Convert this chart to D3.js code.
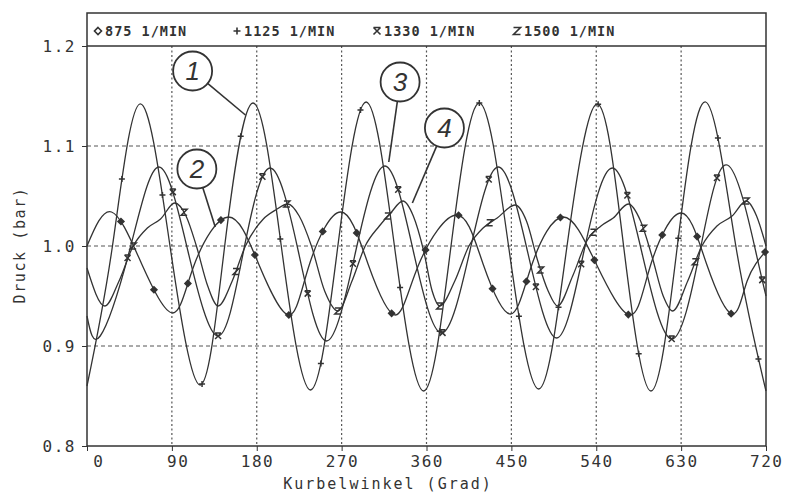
<!DOCTYPE html>
<html>
<head>
<meta charset="utf-8">
<script src="https://cdn.jsdelivr.net/npm/d3@7"></script>
<style>
body { margin: 0; background: #fff; }
text { font-family: "DejaVu Sans Mono", monospace; fill: #333; }
</style>
</head>
<body>
<div id="chart"></div>
<script>
// tick values
var ticksX = [0, 90, 180, 270, 360, 450, 540, 630, 720];
var ticksY = [0.8, 0.9, 1.0, 1.1, 1.2];
var legendNames = ["875 1/MIN", "1125 1/MIN", "1330 1/MIN", "1500 1/MIN"];

// curves, [Kurbelwinkel, Druck]
var s875 = [[0,1.0],[26,1.034],[58,0.982],[91,0.933],[114,0.982],[150,1.029],[182,0.982],[214,0.931],
  [236,0.982],[269,1.034],[298,0.982],[327,0.931],[352,0.982],[392,1.031],[420,0.982],[449,0.932],
  [472,0.982],[505,1.029],[540,0.982],[576,0.931],[598,0.982],[630,1.033],[657,0.982],[684,0.932],
  [700,0.965],[720,0.995]];
var s1125 = [[0,0.86],[27,1.0],[56,1.142],[88,1.0],[120,0.861],[146,1.0],[176,1.143],[206,1.0],
  [237,0.856],[266,1.0],[296,1.144],[326,1.0],[357,0.855],[386,1.0],[416,1.143],[447,1.0],
  [479,0.857],[509,1.0],[541,1.142],[569,1.0],[598,0.855],[626,1.0],[656,1.144],[688,1.0],[720,0.855]];
var s1330 = [[0,0.93],[14,0.91],[45,0.995],[76,1.079],[107,0.995],[139,0.91],[166,0.995],[194,1.078],
  [224,0.995],[254,0.905],[285,0.995],[316,1.08],[346,0.995],[376,0.913],[406,0.995],[436,1.079],
  [467,0.995],[498,0.908],[527,0.995],[557,1.078],[588,0.995],[620,0.907],[650,0.995],[679,1.081],
  [709,0.995],[720,0.95]];
var s1500 = [[0,0.978],[19,0.94],[34,0.965],[49,1.0],[64,1.018],[78,1.027],[93,1.043],[105,1.03],
  [116,1.0],[128,0.96],[139,0.94],[154,0.965],[168,1.0],[187,1.027],[200,1.036],[213,1.042],
  [225,1.03],[238,1.0],[252,0.955],[266,0.935],[281,0.965],[295,1.0],[310,1.02],[322,1.033],
  [335,1.045],[346,1.03],[357,0.995],[366,0.955],[374,0.94],[390,0.965],[405,1.0],[420,1.018],
  [435,1.028],[454,1.041],[466,1.025],[478,0.985],[489,0.955],[499,0.94],[515,0.97],[530,1.005],
  [545,1.02],[558,1.028],[574,1.042],[587,1.025],[599,0.99],[611,0.95],[621,0.935],[637,0.965],
  [652,1.0],[668,1.02],[684,1.03],[699,1.045],[710,1.03],[720,1.0]];

// Kurbelwinkel of the plotted symbols
var marks875 = [36,71,107,142,178,214,250,286,323,359,394,430,466,502,538,574,610,647,683,719];
var marks1125 = [37,80,122,163,205,248,290,332,374,416,458,500,542,585,627,669,712];
var marks1330 = [43,91,139,186,234,282,330,377,426,476,524,573,620,668,716];
var marks1500 = [49,103,158,212,266,319,374,427,481,537,590,645,699];

// circled curve numbers: centre and the point the leader touches
var notes = [
  { num: "1", cx: 112, cy: 1.175, tx: 168, ty: 1.131 },
  { num: "2", cx: 116.5, cy: 1.077, tx: 136, ty: 1.019 },
  { num: "3", cx: 332, cy: 1.164, tx: 320, ty: 1.084 },
  { num: "4", cx: 379, cy: 1.118, tx: 345, ty: 1.043 }
];

var W = 786, H = 492;
var svg = d3.select("#chart").append("svg").attr("width", W).attr("height", H);

var x = d3.scaleLinear().domain([0, 720]).range([87, 766]);
var y = d3.scaleLinear().domain([0.8, 1.2]).range([446, 46]);
var ink = "#333";

// grid
svg.selectAll(".gx").data(ticksX.slice(1, -1)).enter().append("line")
  .attr("x1", function(d) { return x(d); }).attr("x2", function(d) { return x(d); })
  .attr("y1", y(1.2)).attr("y2", y(0.8))
  .attr("stroke", "#555").attr("stroke-width", 1.2).attr("stroke-dasharray", "2,2.5");
svg.selectAll(".gy").data(ticksY.slice(1, -1)).enter().append("line")
  .attr("x1", x(0)).attr("x2", x(720))
  .attr("y1", function(d) { return y(d); }).attr("y2", function(d) { return y(d); })
  .attr("stroke", "#555").attr("stroke-width", 1).attr("stroke-dasharray", "4,3");

// frame and legend box
svg.append("rect").attr("x", x(0)).attr("y", 13).attr("width", x(720) - x(0)).attr("height", y(0.8) - 13)
  .attr("fill", "none").attr("stroke", ink).attr("stroke-width", 1.5);
svg.append("line").attr("x1", x(0)).attr("x2", x(720)).attr("y1", y(1.2)).attr("y2", y(1.2))
  .attr("stroke", ink).attr("stroke-width", 1.5);

// axes
var xAxis = d3.axisBottom(x).tickValues(ticksX).tickSize(5).tickFormat(d3.format("d"));
var gx = svg.append("g").attr("transform", "translate(0," + y(0.8) + ")").call(xAxis);
gx.select(".domain").remove();
gx.selectAll("line").attr("stroke", ink);
gx.selectAll("text").attr("text-anchor", "end").attr("dx", 17).attr("y", 10)
  .style("font-size", "16px").style("letter-spacing", "1.5px").attr("fill", "#444");

var yAxis = d3.axisLeft(y).tickValues(ticksY).tickSize(5).tickFormat(d3.format(".1f"));
var gy = svg.append("g").attr("transform", "translate(" + x(0) + ",0)").call(yAxis);
gy.select(".domain").remove();
gy.selectAll("line").attr("stroke", ink);
gy.selectAll("text").attr("x", -11).attr("dy", "0.35em")
  .style("font-size", "16px").style("letter-spacing", "1.5px").attr("fill", "#444");

svg.append("text").attr("x", 388).attr("y", 489).attr("text-anchor", "middle")
  .style("font-size", "15px").style("letter-spacing", "2px").text("Kurbelwinkel  (Grad)");
svg.append("text").attr("transform", "translate(25,245) rotate(-90)").attr("text-anchor", "middle")
  .style("font-size", "15px").style("letter-spacing", "1.6px").text("Druck (bar)");

// symbols
function symbol(kind, s) {
  if (kind === 0) return "M0," + (-s) + "L" + s + ",0L0," + s + "L" + (-s) + ",0Z";
  if (kind === 1) return "M" + (-s) + ",0H" + s + "M0," + (-s) + "V" + s;
  if (kind === 2) return "M" + (-s) + "," + (-s) + "H" + s + "M" + (-s) + "," + (-s) + "L" + s + "," + s +
    "M" + s + "," + (-s) + "L" + (-s) + "," + s;
  return "M" + (-s) + "," + (-s) + "H" + s + "L" + (-s) + "," + s + "H" + s;
}

var series = [
  { data: s875, marks: marks875, curve: d3.curveNatural },
  { data: s1125, marks: marks1125, curve: d3.curveNatural },
  { data: s1330, marks: marks1330, curve: d3.curveNatural },
  { data: s1500, marks: marks1500, curve: d3.curveMonotoneX }
];

series.forEach(function(s, k) {
  var line = d3.line().x(function(d) { return x(d[0]); }).y(function(d) { return y(d[1]); }).curve(s.curve);
  var path = svg.append("path").datum(s.data).attr("d", line)
    .attr("fill", "none").attr("stroke", ink).attr("stroke-width", 1.3);
  var node = path.node(), total = node.getTotalLength();
  s.marks.forEach(function(m) {
    var px = x(m), lo = 0, hi = total, p;
    for (var i = 0; i < 30; i++) {
      var mid = (lo + hi) / 2;
      p = node.getPointAtLength(mid);
      if (p.x < px) lo = mid; else hi = mid;
    }
    p = node.getPointAtLength((lo + hi) / 2);
    svg.append("path").attr("d", symbol(k, 3))
      .attr("transform", "translate(" + p.x + "," + p.y + ")")
      .attr("fill", k === 0 ? ink : "none").attr("stroke", ink).attr("stroke-width", 1.5);
  });
});

// legend
var legX = [98, 237, 377, 517];
legendNames.forEach(function(n, i) {
  svg.append("path").attr("d", symbol(i, 3.5))
    .attr("transform", "translate(" + legX[i] + ",31)")
    .attr("fill", "none").attr("stroke", ink).attr("stroke-width", 1.6);
  svg.append("text").attr("x", legX[i] + 7).attr("y", 36)
    .style("font-size", "13.5px").style("font-weight", "bold").style("letter-spacing", "1px").text(n);
});

// circled numbers
notes.forEach(function(a) {
  var cx = x(a.cx), cy = y(a.cy), tx = x(a.tx), ty = y(a.ty), r = 19.5;
  var dx = tx - cx, dy = ty - cy, len = Math.sqrt(dx * dx + dy * dy);
  svg.append("circle").attr("cx", cx).attr("cy", cy).attr("r", r)
    .attr("fill", "#fff").attr("stroke", ink).attr("stroke-width", 1.8);
  svg.append("line").attr("x1", cx + dx / len * r).attr("y1", cy + dy / len * r)
    .attr("x2", tx).attr("y2", ty).attr("stroke", ink).attr("stroke-width", 1.6);
  svg.append("text").attr("x", cx).attr("y", cy + 9).attr("text-anchor", "middle")
    .style("font-family", "'Liberation Sans', sans-serif").style("font-style", "italic")
    .style("font-size", "26px").text(a.num);
});
</script>
</body>
</html>
